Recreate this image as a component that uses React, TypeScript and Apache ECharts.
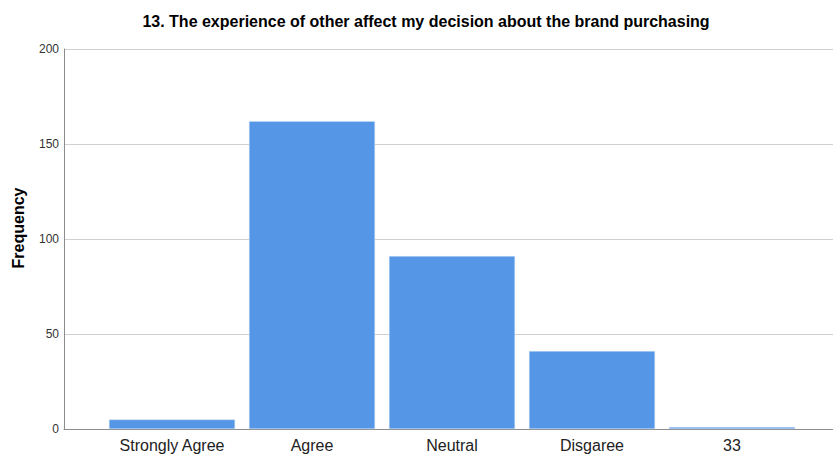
import React, { useEffect, useRef } from "react";
import * as echarts from "echarts";

const categories = ["Strongly Agree", "Agree", "Neutral", "Disgaree", "33"];
const frequencies = [5, 162, 91, 41, 1];
const yTicks = { min: 0, max: 200, interval: 50 };
const titleText = "13. The experience of other affect my decision about the brand purchasing";
const yName = "Frequency";

export default function App() {
  const ref = useRef<HTMLDivElement>(null);
  useEffect(() => {
    document.body.style.margin = "0";
    const chart = echarts.init(ref.current!, null, { renderer: "svg" });
    const font = "Liberation Sans, Arial, sans-serif";
    chart.setOption({
      animation: false,
      backgroundColor: "#ffffff",
      title: {
        text: titleText,
        left: 421,
        textAlign: "center",
        top: 8,
        textStyle: { fontFamily: font, fontSize: 16, fontWeight: "bold", color: "#000" },
      },
      graphic: [
        {
          type: "text",
          x: 18,
          y: 228,
          rotation: Math.PI / 2,
          style: {
            text: yName,
            fontFamily: font,
            fontSize: 16,
            fontWeight: "bold",
            fill: "#000",
            align: "center",
            verticalAlign: "middle",
          },
        },
      ],
      grid: [
        { left: 64, right: 0, top: 49, bottom: 28, containLabel: false },
        { left: 102, right: 31, top: 49, bottom: 28, containLabel: false },
      ],
      xAxis: [
        {
          gridIndex: 0,
          type: "value",
          min: 0,
          max: 1,
          axisLine: { show: true, lineStyle: { color: "#8c8c8c", width: 1 } },
          axisTick: { show: false },
          axisLabel: { show: false },
          splitLine: { show: false },
        },
        {
          gridIndex: 1,
          type: "category",
          data: categories,
          axisLine: { show: false },
          axisTick: { show: false },
          axisLabel: { fontFamily: font, fontSize: 16, color: "#222", margin: 8 },
        },
      ],
      yAxis: [
        {
          gridIndex: 0,
          type: "value",
          min: yTicks.min,
          max: yTicks.max,
          interval: yTicks.interval,
          axisLine: { show: true, lineStyle: { color: "#8c8c8c", width: 1 } },
          axisTick: { show: false },
          axisLabel: { fontFamily: font, fontSize: 12, color: "#333", margin: 5 },
          splitLine: { show: true, lineStyle: { color: "#d0d0d0", width: 1 } },
        },
        {
          gridIndex: 1,
          type: "value",
          min: yTicks.min,
          max: yTicks.max,
          interval: yTicks.interval,
          show: false,
          splitLine: { show: false },
        },
      ],
      series: [
        {
          type: "bar",
          xAxisIndex: 1,
          yAxisIndex: 1,
          data: frequencies,
          barCategoryGap: "10%",
          itemStyle: { color: "#5596E6", borderColor: "#c8dcf5", borderWidth: 0.5 },
        },
      ],
    });
    return () => chart.dispose();
  }, []);
  return <div ref={ref} style={{ width: 833, height: 457 }} />;
}
